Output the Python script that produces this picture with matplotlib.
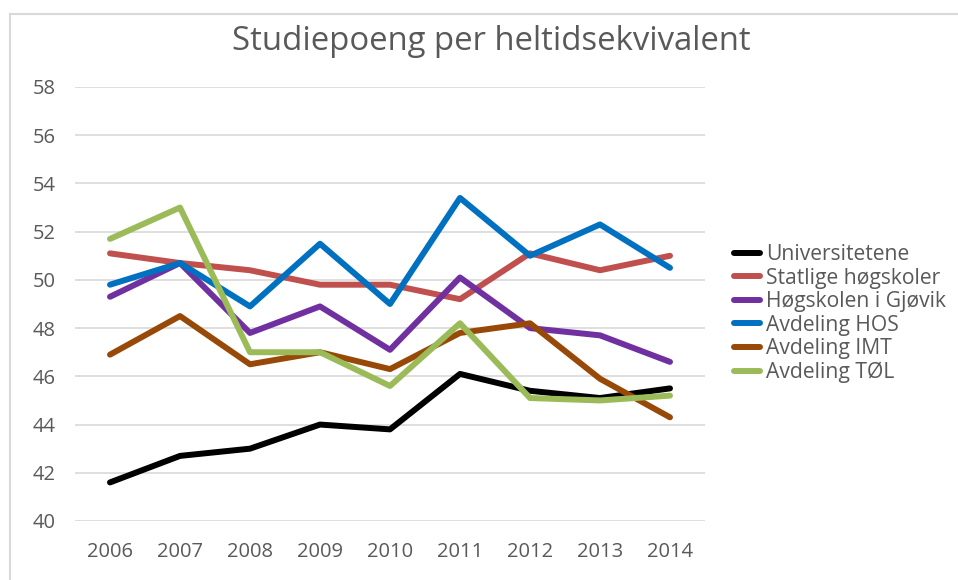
import matplotlib
matplotlib.use("Agg")
import matplotlib.pyplot as plt
from matplotlib.lines import Line2D

plt.rcParams['font.family'] = ['Open Sans', 'DejaVu Sans']

years = [2006, 2007, 2008, 2009, 2010, 2011, 2012, 2013, 2014]

universitetene = [41.6, 42.7, 43.0, 44.0, 43.8, 46.1, 45.4, 45.1, 45.5]
statlige = [51.1, 50.7, 50.4, 49.8, 49.8, 49.2, 51.1, 50.4, 51.0]
gjovik = [49.3, 50.7, 47.8, 48.9, 47.1, 50.1, 48.0, 47.7, 46.6]
hos = [49.8, 50.7, 48.9, 51.5, 49.0, 53.4, 51.0, 52.3, 50.5]
imt = [46.9, 48.5, 46.5, 47.0, 46.3, 47.8, 48.2, 45.9, 44.3]
tol = [51.7, 53.0, 47.0, 47.0, 45.6, 48.2, 45.1, 45.0, 45.2]

names = ['Universitetene', 'Statlige høgskoler', 'Høgskolen i Gjøvik',
         'Avdeling HOS', 'Avdeling IMT', 'Avdeling TØL']
colors = ['#000000', '#C0504D', '#7030A0', '#0070C0', '#984807', '#9BBB59']
series = [universitetene, statlige, gjovik, hos, imt, tol]

fig = plt.figure(figsize=(9.58, 5.8), dpi=100)
ax = fig.add_axes([75 / 958, 1 - 521 / 580, 630 / 958, 434 / 580])

for vals, name, c in zip(series, names, colors):
    ax.plot(years, vals, color=c, lw=4.3, label=name, solid_capstyle='round',
            solid_joinstyle='round')

ax.set_xlim(2005.5, 2014.5)
ax.set_ylim(40, 58)
ax.set_yticks(range(40, 59, 2))
ax.set_xticks(years)
ax.grid(axis='y', color='#D9D9D9', lw=1.2)
ax.set_axisbelow(True)
for s in ax.spines.values():
    s.set_visible(False)
ax.tick_params(length=0, labelsize=14.5, colors='#595959')
ax.tick_params(axis='y', pad=14)
ax.tick_params(axis='x', pad=15)

fig.text(491 / 958, 1 - 41 / 580, 'Studiepoeng per heltidsekvivalent',
         ha='center', va='center', fontsize=23.7, color='#595959')

fig.legend(loc='upper left', bbox_to_anchor=(734 / 958, 1 - 244 / 580),
           frameon=False, fontsize=15.2, handlelength=1.25, handletextpad=0.25,
           labelspacing=0.12, borderpad=0, borderaxespad=0, labelcolor='#595959')

# chart area border (top and left visible)
fig.add_artist(Line2D([10 / 958, 1], [1 - 14 / 580, 1 - 14 / 580],
                      transform=fig.transFigure, color='#D9D9D9', lw=1.5))
fig.add_artist(Line2D([10 / 958, 10 / 958], [0, 1 - 14 / 580],
                      transform=fig.transFigure, color='#D9D9D9', lw=1.5))

fig.savefig('out.png', dpi=100)
